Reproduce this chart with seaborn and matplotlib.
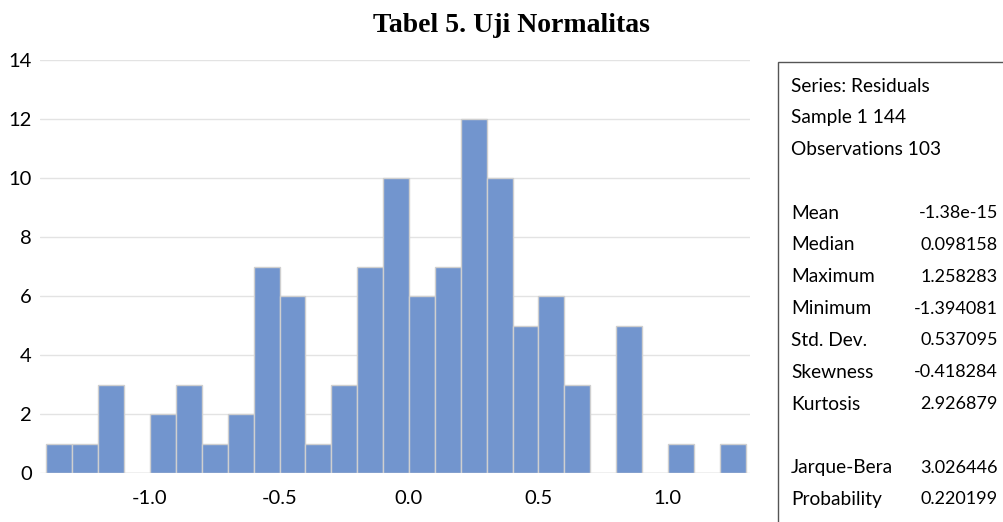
import numpy as np
import pandas as pd
import matplotlib.pyplot as plt
import seaborn as sns
from matplotlib.patches import Rectangle

# data histogram residual (lebar bin 0.1)
bin_start = -1.4
bin_end = 1.3
bin_width = 0.1
counts = [1, 1, 3, 0, 2, 3, 1, 2, 7, 6, 1, 3, 7, 10, 6, 7, 12, 10, 5, 6, 3, 0, 5, 0, 1, 0, 1]
x_ticks = [-1.0, -0.5, 0.0, 0.5, 1.0]
y_ticks = [0, 2, 4, 6, 8, 10, 12, 14]

stat_labels = ["Series: Residuals", "Sample 1 144", "Observations 103", "",
               "Mean", "Median", "Maximum", "Minimum", "Std. Dev.", "Skewness", "Kurtosis", "",
               "Jarque-Bera", "Probability"]
stat_values = ["", "", "", "",
               "-1.38e-15", "0.098158", "1.258283", "-1.394081", "0.537095", "-0.418284", "2.926879", "",
               "3.026446", "0.220199"]

mids = bin_start + bin_width * (np.arange(len(counts)) + 0.5)
df = pd.DataFrame({"mid": mids, "n": counts})

sns.set_style("white")
plt.rcParams['font.family'] = ['Lato', 'DejaVu Sans']
plt.rcParams['text.color'] = 'black'
plt.rcParams['xtick.color'] = 'black'
plt.rcParams['ytick.color'] = 'black'

fig = plt.figure(figsize=(10.04, 5.22), dpi=100)
ax = fig.add_axes([40 / 1004, 49 / 522, 710 / 1004, 413 / 522])

sns.histplot(data=df, x="mid", weights="n", binwidth=bin_width, binrange=(bin_start, bin_end),
             ax=ax, color="#7295CE", alpha=1, edgecolor="#CFCFCF", linewidth=1)

ax.set_xlim(-1.425, 1.317)
ax.set_ylim(0, 14)
ax.set_xticks(x_ticks)
ax.set_xticklabels([f"{v:.1f}" for v in x_ticks])
ax.set_yticks(y_ticks)
ax.set_xlabel("")
ax.set_ylabel("")
ax.grid(axis="y", color="#E3E3E3", linewidth=1)
ax.set_axisbelow(True)
for s in ax.spines.values():
    s.set_visible(False)
ax.tick_params(axis="both", length=0, labelsize=14.5)
ax.tick_params(axis="x", pad=12)
ax.tick_params(axis="y", pad=6)

fig.text(511 / 1004, 1 - 25 / 522, "Tabel 5. Uji Normalitas", ha="center", va="center",
         fontsize=20, fontweight="bold", family=["Liberation Serif", "DejaVu Serif"])

# kotak statistik
fig.patches.append(Rectangle((778 / 1004, -0.2), 0.5, 0.2 + (522 - 62) / 522,
                             transform=fig.transFigure, fill=False,
                             edgecolor="#555555", linewidth=1))
y0 = 86
for i, (lab, val) in enumerate(zip(stat_labels, stat_values)):
    yy = 1 - (y0 + i * 31.8) / 522
    if lab:
        fig.text(791 / 1004, yy, lab, ha="left", va="center", fontsize=13.8)
    if val:
        fig.text(998 / 1004, yy, val, ha="right", va="center", fontsize=13)

fig.savefig("out.png", dpi=100)
